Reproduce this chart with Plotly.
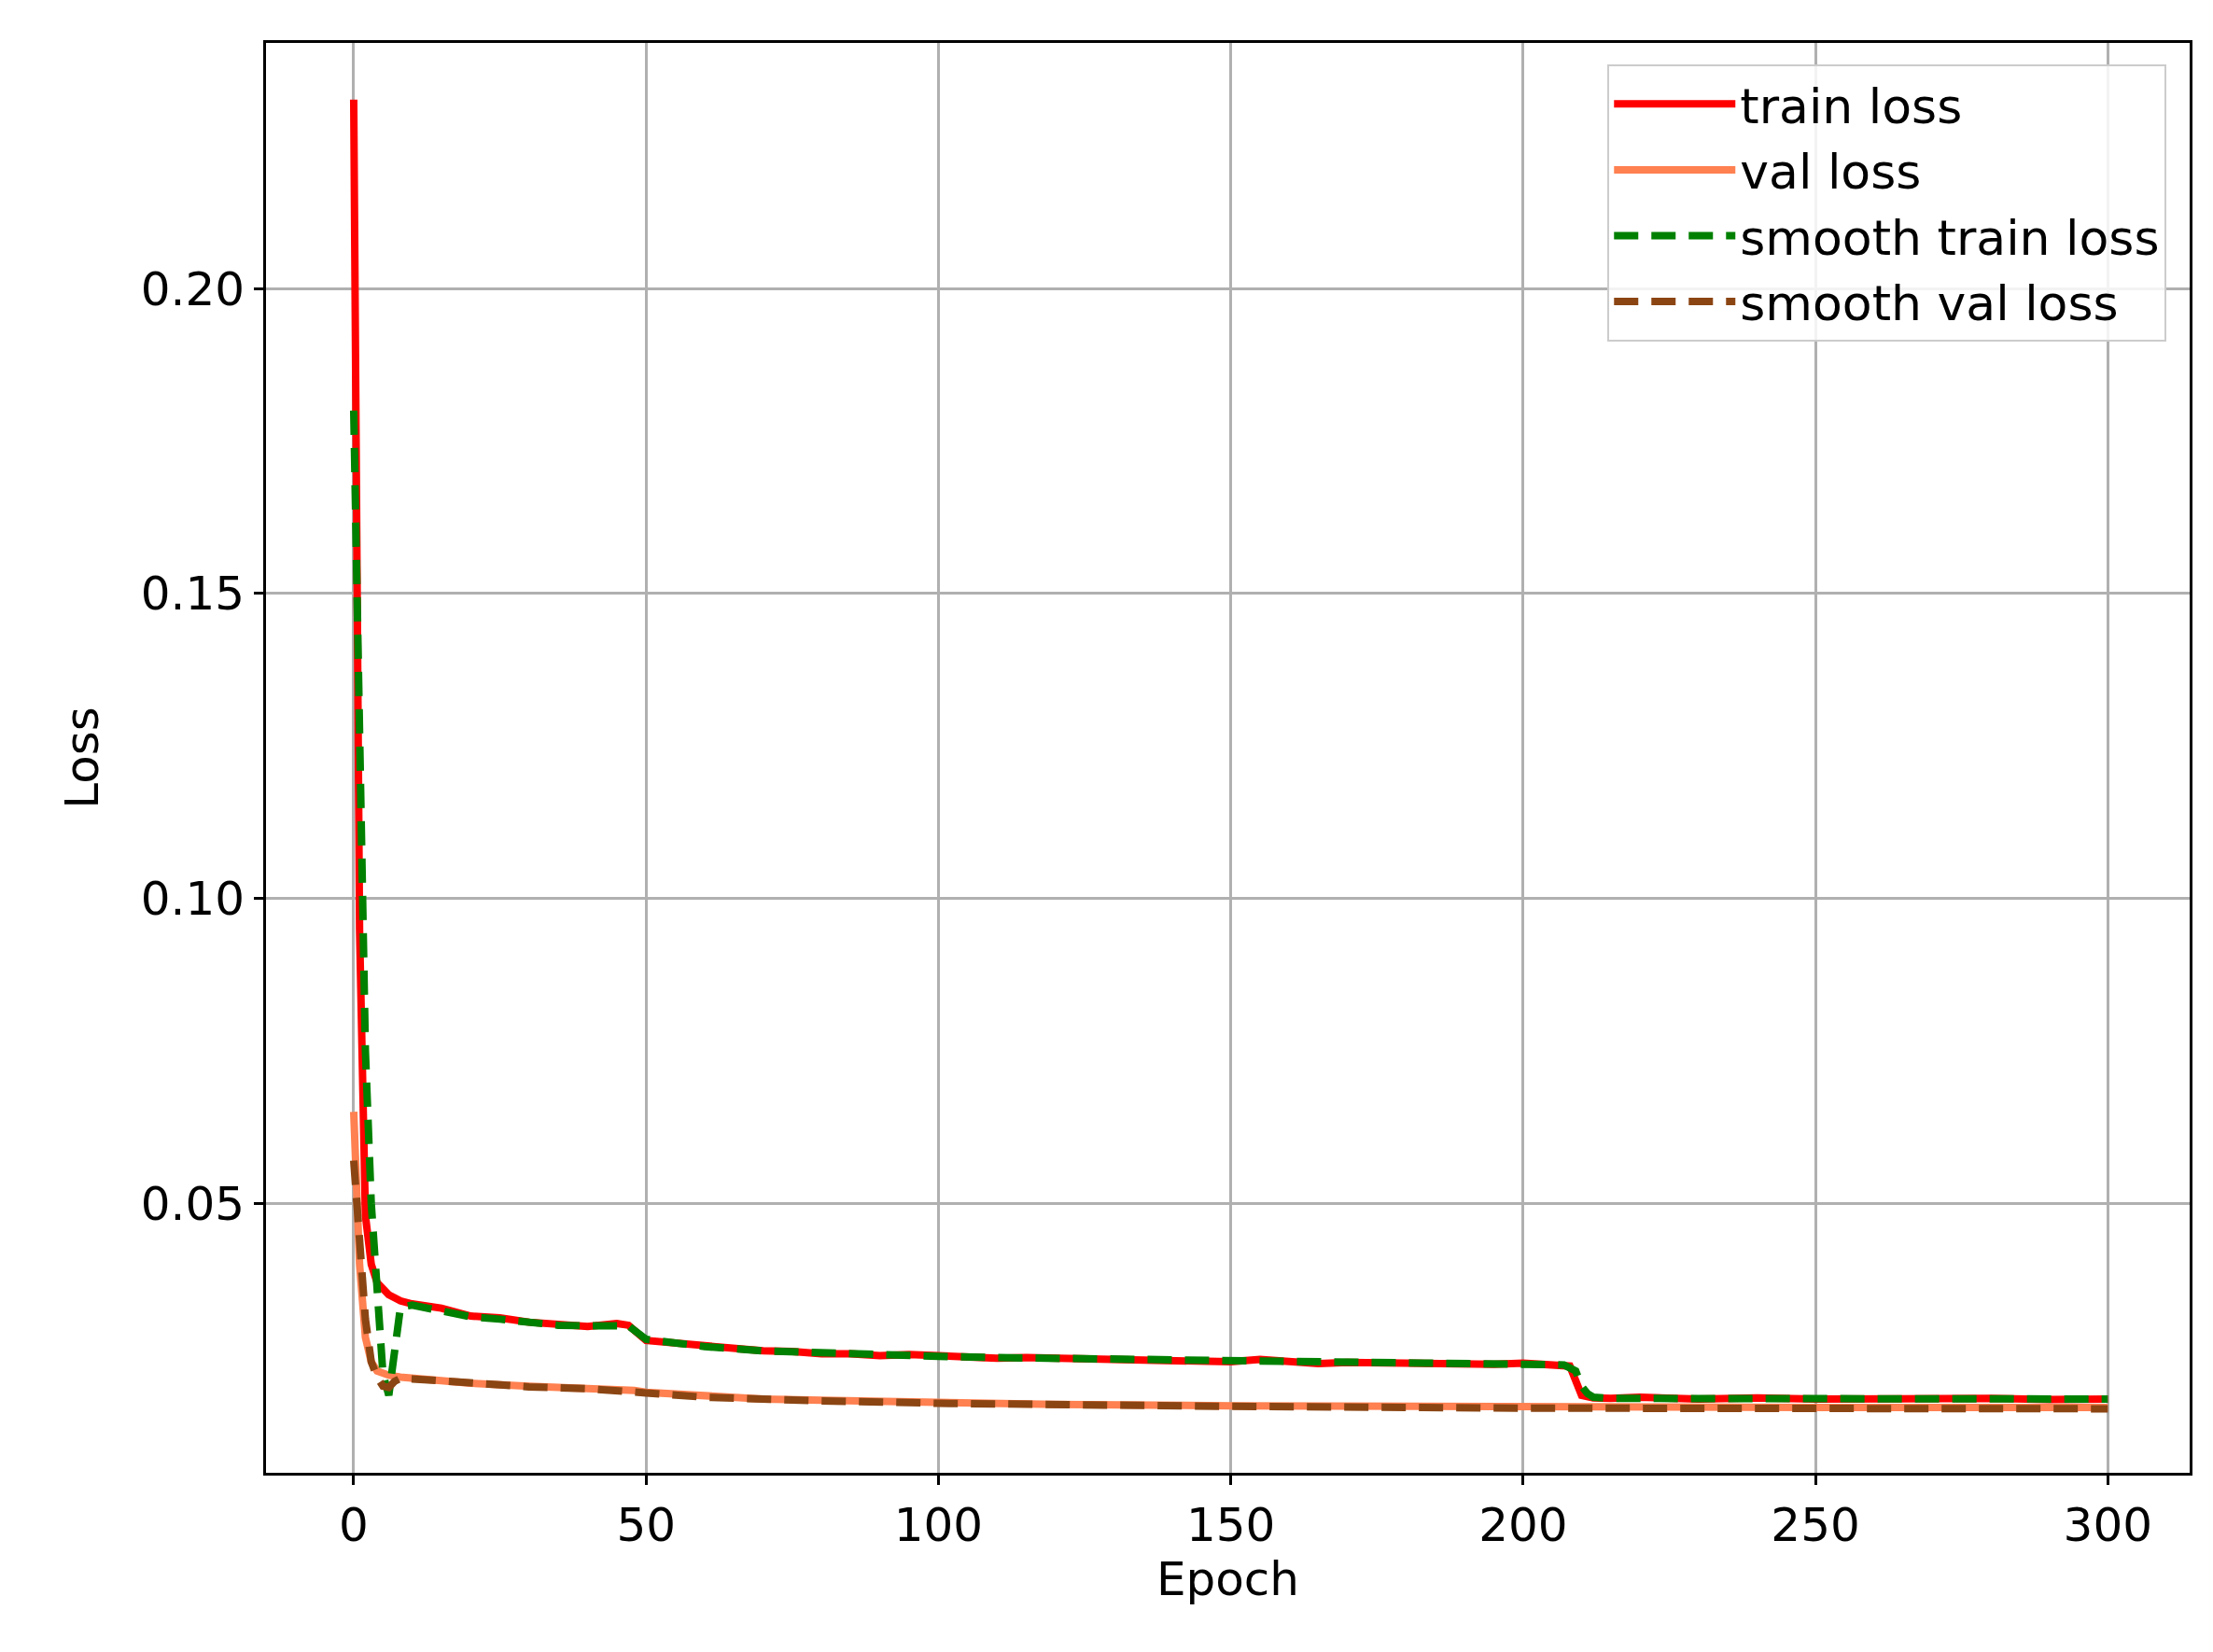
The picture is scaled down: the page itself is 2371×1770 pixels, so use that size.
import plotly.graph_objects as go

train_epochs = [0,1,2,3,4,5,6,7,8,10,15,20,25,30,35,40,45,47,50,55,60,65,70,75,80,85,90,95,100,105,110,115,120,125,130,135,140,145,150,155,160,165,170,175,180,185,190,195,200,205,208,210,212,215,220,230,240,250,260,270,280,290,300]
train_loss = [0.231,0.095,0.048,0.040,0.037,0.036,0.035,0.0345,0.034,0.0335,0.0328,0.0315,0.0312,0.0305,0.0300,0.0298,0.0303,0.0300,0.0275,0.0270,0.0267,0.0262,0.0258,0.0257,0.0253,0.0253,0.0250,0.0252,0.0249,0.0249,0.0246,0.0247,0.0246,0.0246,0.0244,0.0245,0.0243,0.0244,0.0240,0.0244,0.0242,0.0237,0.0239,0.0238,0.0239,0.0237,0.0238,0.0236,0.0238,0.0236,0.0233,0.0185,0.0181,0.0180,0.0182,0.0179,0.0181,0.0179,0.0180,0.0178,0.0180,0.0178,0.0179]

smooth_train_epochs = [0,1,2,3,4,5,6,7,8,10,15,20,25,30,35,40,45,47,50,55,60,70,80,90,100,110,120,130,140,150,160,170,180,190,200,205,207,209,210,211,212,215,230,250,270,300]
smooth_train_loss = [0.180,0.125,0.075,0.050,0.034,0.022,0.0185,0.025,0.033,0.0333,0.0325,0.0314,0.0310,0.0304,0.0300,0.0299,0.0301,0.0299,0.0277,0.0270,0.0265,0.0258,0.0254,0.0251,0.0249,0.0247,0.0246,0.0245,0.0243,0.0242,0.0241,0.0238,0.0238,0.0237,0.0237,0.0236,0.0235,0.0225,0.0200,0.0188,0.0182,0.0180,0.0180,0.0179,0.0179,0.0179]

val_epochs = [0,1,2,3,4,5,6,8,10,15,20,30,40,48,50,60,70,80,100,120,150,200,250,300]
val_loss = [0.065,0.040,0.028,0.024,0.0225,0.022,0.0218,0.0215,0.0213,0.0210,0.0205,0.0200,0.0197,0.0193,0.0190,0.0183,0.0179,0.0177,0.0173,0.0170,0.0168,0.0165,0.0165,0.0165]

smooth_val_epochs = [0,1,2,3,4,5,6,7,8,10,15,20,30,40,48,50,60,70,80,100,120,150,200,250,300]
smooth_val_loss = [0.057,0.045,0.031,0.024,0.0215,0.0200,0.0198,0.0208,0.0213,0.0212,0.0209,0.0204,0.0199,0.0196,0.0192,0.0189,0.0182,0.0178,0.0176,0.0172,0.0169,0.0167,0.0164,0.0163,0.0163]

fig = go.Figure()
fig.add_trace(go.Scatter(x=train_epochs, y=train_loss, mode="lines", name="train loss",
                         line=dict(color="red", width=8)))
fig.add_trace(go.Scatter(x=val_epochs, y=val_loss, mode="lines", name="val loss",
                         line=dict(color="#FF8050", width=8)))
fig.add_trace(go.Scatter(x=smooth_train_epochs, y=smooth_train_loss, mode="lines", name="smooth train loss",
                         line=dict(color="green", width=8, dash="26px,14px")))
fig.add_trace(go.Scatter(x=smooth_val_epochs, y=smooth_val_loss, mode="lines", name="smooth val loss",
                         line=dict(color="#8B4513", width=8, dash="26px,14px")))

axis_common = dict(showgrid=True, gridcolor="#b0b0b0", gridwidth=3, showline=True, linecolor="black",
                   linewidth=3, mirror=True, ticks="outside", ticklen=10, tickwidth=3, tickcolor="black",
                   zeroline=False, tickfont=dict(size=50, color="black"))
fig.update_layout(
    width=2371, height=1770,
    paper_bgcolor="white", plot_bgcolor="white",
    font=dict(family="DejaVu Sans", color="black"),
    margin=dict(l=277, r=33, t=38, b=200),
    xaxis=dict(range=[-15, 314], tickvals=[0,50,100,150,200,250,300],
               title=dict(text="Epoch", font=dict(size=50), standoff=12), **axis_common),
    yaxis=dict(range=[0.0058, 0.2403], tickvals=[0.05,0.10,0.15,0.20], tickformat=".2f",
               title=dict(text="Loss", font=dict(size=50), standoff=30), **axis_common),
    legend=dict(x=0.988, y=0.985, xanchor="right", yanchor="top", bgcolor="rgba(255,255,255,0.85)",
                bordercolor="#cccccc", borderwidth=2, font=dict(size=52), itemwidth=130),
)
fig.write_html("out.html")
